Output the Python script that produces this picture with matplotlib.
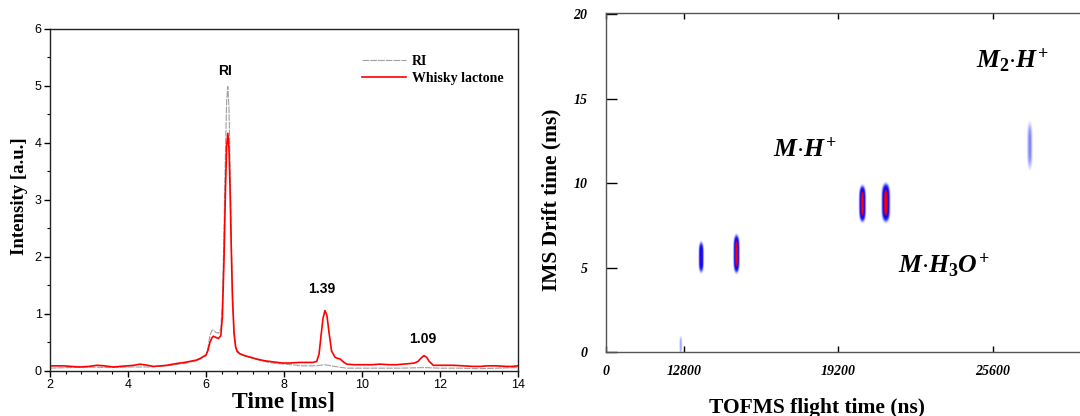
import numpy as np
import matplotlib
matplotlib.use("Agg")
import matplotlib.pyplot as plt
from matplotlib.colors import LinearSegmentedColormap
from matplotlib.ticker import MultipleLocator

# ---- left panel: IMS spectra ----
t_lactone = [2.0, 2.2, 2.35, 2.55, 2.77, 3.0, 3.2, 3.4, 3.62, 3.8,
             3.97, 4.15, 4.31, 4.5, 4.65, 4.85, 5.0, 5.15, 5.33, 5.45,
             5.6, 5.75, 5.85, 5.95, 6.0, 6.05, 6.1, 6.15, 6.19, 6.25,
             6.32, 6.38, 6.42, 6.46, 6.5, 6.53, 6.56, 6.59, 6.62, 6.65,
             6.68, 6.72, 6.76, 6.8, 6.87, 6.95, 7.04, 7.15, 7.3, 7.5,
             7.72, 7.95, 8.15, 8.4, 8.6, 8.75, 8.84, 8.9, 8.95, 9.0,
             9.05, 9.1, 9.15, 9.22, 9.31, 9.38, 9.44, 9.52, 9.61, 9.8,
             10.04, 10.25, 10.46, 10.7, 10.89, 11.05, 11.23, 11.35, 11.44, 11.52,
             11.59, 11.66, 11.72, 11.83, 12.0, 12.2, 12.35, 12.6, 12.86, 13.05,
             13.2, 13.45, 13.7, 13.85, 14.0]
i_lactone = [0.09, 0.09, 0.09, 0.08, 0.07, 0.08, 0.10, 0.09, 0.07, 0.08,
             0.09, 0.10, 0.12, 0.10, 0.08, 0.09, 0.10, 0.12, 0.14, 0.15,
             0.17, 0.19, 0.22, 0.26, 0.28, 0.36, 0.50, 0.58, 0.61, 0.59,
             0.57, 0.62, 0.95, 1.9, 3.2, 3.95, 4.17, 3.9, 3.1, 2.1,
             1.25, 0.65, 0.42, 0.34, 0.30, 0.28, 0.26, 0.24, 0.21, 0.18,
             0.16, 0.14, 0.14, 0.15, 0.15, 0.15, 0.17, 0.30, 0.62, 0.92,
             1.06, 0.98, 0.70, 0.35, 0.24, 0.22, 0.21, 0.16, 0.12, 0.11,
             0.11, 0.11, 0.12, 0.11, 0.11, 0.12, 0.13, 0.14, 0.17, 0.23,
             0.27, 0.24, 0.17, 0.10, 0.10, 0.10, 0.10, 0.09, 0.08, 0.08,
             0.09, 0.09, 0.08, 0.08, 0.09]

t_ri = [2.0, 2.5, 3.0, 3.5, 4.0, 4.5, 5.0, 5.5, 5.8, 6.0,
        6.05, 6.1, 6.15, 6.19, 6.25, 6.32, 6.38, 6.42, 6.46, 6.5,
        6.53, 6.56, 6.59, 6.62, 6.65, 6.68, 6.72, 6.76, 6.8, 6.9,
        7.0, 7.3, 7.6, 8.0, 8.5, 8.8, 9.05, 9.3, 9.6, 10.0,
        10.5, 11.0, 11.6, 12.0, 12.5, 13.0, 13.5, 14.0]
i_ri = [0.05, 0.06, 0.07, 0.06, 0.07, 0.07, 0.09, 0.14, 0.19, 0.27,
        0.40, 0.62, 0.71, 0.72, 0.68, 0.66, 0.75, 1.2, 2.4, 3.9,
        4.75, 4.99, 4.6, 3.5, 2.3, 1.35, 0.7, 0.45, 0.36, 0.30,
        0.26, 0.20, 0.15, 0.12, 0.09, 0.09, 0.11, 0.08, 0.05, 0.05,
        0.05, 0.05, 0.06, 0.05, 0.05, 0.04, 0.05, 0.06]

peak_labels = ["RI", "1.39", "1.09"]
peak_pos = [6.5, 8.97, 11.56]
peak_label_y = [5.27, 1.44, 0.56]

# ---- right panel: IMS/TOFMS spots ----
spot_tof = [12647, 13492, 14954, 20165, 21134, 27091]      # ns
spot_drift = [0.4, 5.6, 5.8, 8.77, 8.83, 12.2]               # ms
spot_w_tof = [50, 65, 72, 80, 100, 90]
spot_w_drift = [0.5, 0.72, 0.86, 0.82, 0.87, 1.25]
spot_amp = [0.26, 0.72, 1.0, 1.0, 1.0, 0.3]

ion_labels = [r"$M{\cdot}H^{+}$", r"$M_{2}{\cdot}H^{+}$", r"$M{\cdot}H_{3}O^{+}$"]
ion_tof = [16480, 24880, 21660]
ion_drift = [12.0, 17.3, 5.16]

tof_ticks = [12800, 19200, 25600]
drift_ticks = [0, 5, 10, 15, 20]

SERIF = "Liberation Serif"
SANS = "Liberation Sans"
plt.rcParams["mathtext.fontset"] = "custom"
plt.rcParams["mathtext.it"] = "Liberation Serif:italic:bold"
plt.rcParams["mathtext.rm"] = "Liberation Serif:bold"
plt.rcParams["mathtext.bf"] = "Liberation Serif:bold"

fig = plt.figure(figsize=(10.8, 4.16), dpi=100)

# left
ax1 = fig.add_axes([0.0463, 0.1082, 0.4333, 0.8221])
ax1.plot(t_ri, i_ri, color="#a0a0a0", lw=0.8, dashes=(6, 1), label="RI")
ax1.plot(t_lactone, i_lactone, color="#ff0000", lw=1.2, label="Whisky lactone")
ax1.set_xlim(2, 14)
ax1.set_ylim(0, 6)
ax1.xaxis.set_major_locator(MultipleLocator(2))
ax1.xaxis.set_minor_locator(MultipleLocator(0.4))
ax1.yaxis.set_major_locator(MultipleLocator(1))
ax1.yaxis.set_minor_locator(MultipleLocator(0.5))
ax1.tick_params(which="major", direction="out", length=4, width=1, labelsize=9, pad=2)
ax1.tick_params(which="minor", direction="out", length=2.5, width=0.8)
for lab in ax1.get_xticklabels() + ax1.get_yticklabels():
    lab.set_fontfamily(SANS)
for sp in ax1.spines.values():
    sp.set_linewidth(1)
    sp.set_color("#222222")
ax1.set_xlabel("Time [ms]", fontfamily=SERIF, fontweight="bold", fontsize=17)
ax1.xaxis.set_label_coords(0.5, -0.06)
ax1.set_ylabel("Intensity [a.u.]", fontfamily=SERIF, fontweight="bold", fontsize=13.5)
ax1.yaxis.set_label_coords(-0.046, 0.51)
for txt, xp, yp in zip(peak_labels, peak_pos, peak_label_y):
    ax1.text(xp, yp, txt, ha="center", va="center", fontfamily=SANS,
             fontweight="bold", fontsize=10)
ax1.legend(loc="upper left", bbox_to_anchor=(0.64, 0.96), frameon=False,
           prop={"family": SERIF, "weight": "bold", "size": 10},
           handlelength=3.2, handletextpad=0.4, labelspacing=0.25)

# right
ax2 = fig.add_axes([0.5608, 0.1538, 0.4392, 0.8156])
x0, x1 = 9557, 29204
gx = np.linspace(x0, x1, 2000)
gy = np.linspace(0, 20.1, 800)
X, Y = np.meshgrid(gx, gy)
field = np.zeros_like(X)
for cx, cy, wx, wy, a in zip(spot_tof, spot_drift, spot_w_tof, spot_w_drift, spot_amp):
    fx = np.exp(-0.5 * ((X - cx) / wx) ** 2)
    fy = np.exp(-0.5 * ((Y - cy) / wy) ** 4)
    field = np.maximum(field, a * fx * fy)
cmap = LinearSegmentedColormap.from_list(
    "spots",
    [(0.0, "white"), (0.1, "white"), (0.2, "#c8c8ff"), (0.4, "#3030ff"),
     (0.62, "#0000f0"), (0.75, "#8000a0"), (0.85, "#e00010"), (1.0, "#ff0000")])
ax2.imshow(field, extent=[x0, x1, 0, 20.1], origin="lower", aspect="auto",
           cmap=cmap, vmin=0, vmax=1, interpolation="bilinear")
ax2.set_xlim(x0, x1)
ax2.set_ylim(0, 20.1)
ax2.set_xticks([x0] + tof_ticks)
ax2.set_xticklabels(["0"] + [str(v) for v in tof_ticks])
ax2.set_yticks(drift_ticks)
ax2.set_yticklabels([str(v) for v in drift_ticks])
ax2.tick_params(axis="x", direction="in", length=4, width=1, top=True, pad=9)
ax2.tick_params(axis="y", direction="in", length=8, width=1, pad=13)
for lab in ax2.get_xticklabels() + ax2.get_yticklabels():
    lab.set_fontfamily(SERIF)
    lab.set_fontweight("bold")
    lab.set_fontstyle("italic")
    lab.set_fontsize(10)
ax2.spines["right"].set_visible(False)
for sp in ["left", "top", "bottom"]:
    ax2.spines[sp].set_color("#555555")
    ax2.spines[sp].set_linewidth(1)
ax2.set_xlabel("TOFMS flight time (ns)", fontfamily=SERIF, fontweight="bold", fontsize=15.5)
ax2.xaxis.set_label_coords(0.445, -0.135)
ax2.set_ylabel("IMS Drift time (ms)", fontfamily=SERIF, fontweight="bold", fontsize=15.5)
ax2.yaxis.set_label_coords(-0.093, 0.45)
for txt, xp, yp in zip(ion_labels, ion_tof, ion_drift):
    ax2.text(xp, yp, txt, ha="left", va="center", fontsize=18.5)

fig.savefig("out.png", dpi=100)
